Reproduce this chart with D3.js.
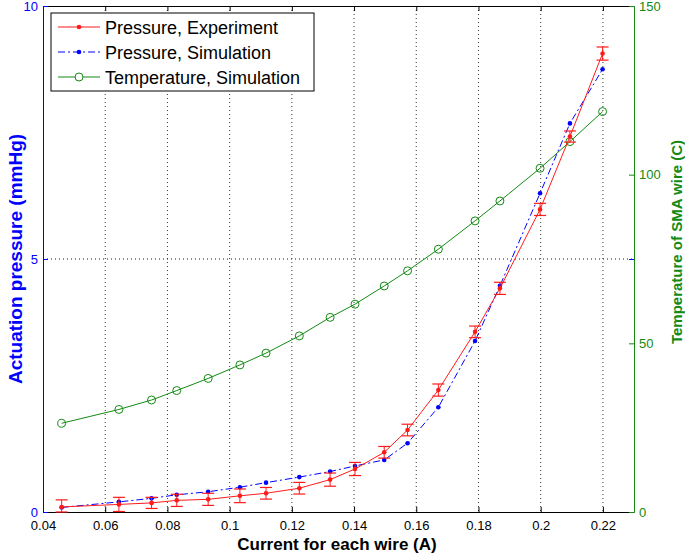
<!DOCTYPE html>
<html>
<head>
<meta charset="utf-8">
<script src="https://cdn.jsdelivr.net/npm/d3@7"></script>
<style>
html,body{margin:0;padding:0;background:#fff;}
svg{display:block;font-family:Arial,"Liberation Sans",Helvetica,sans-serif;}
</style>
</head>
<body>
<svg id="chart" width="685" height="555"></svg>
<script>
// ---- data ----
const current = [0.0460, 0.0644, 0.0749, 0.0830, 0.0931, 0.1033, 0.1117, 0.1224, 0.1323,
                 0.1403, 0.1497, 0.1572, 0.1671, 0.1789, 0.1869, 0.1998, 0.2094, 0.2199];
const pressureExp = [0.10, 0.15, 0.18, 0.23, 0.25, 0.32, 0.37, 0.47, 0.64,
                     0.85, 1.18, 1.62, 2.41, 3.56, 4.42, 5.98, 7.42, 9.06];
const pressureErr = [0.14, 0.14, 0.11, 0.12, 0.12, 0.135, 0.115, 0.115, 0.13,
                     0.13, 0.115, 0.115, 0.12, 0.115, 0.12, 0.12, 0.11, 0.13];
const pressureSim = [0.09, 0.20, 0.27, 0.34, 0.40, 0.49, 0.58, 0.69, 0.80,
                     0.91, 1.03, 1.36, 2.07, 3.38, 4.47, 6.30, 7.68, 8.75];
const temperatureSim = [26.3, 30.4, 33.2, 36.0, 39.6, 43.6, 47.1, 52.2, 57.7,
                        61.6, 67.0, 71.5, 77.9, 86.3, 92.2, 101.9, 109.8, 118.7];
const xTicks = [0.04, 0.06, 0.08, 0.10, 0.12, 0.14, 0.16, 0.18, 0.20, 0.22];
const xTickLabels = ["0.04","0.06","0.08","0.1","0.12","0.14","0.16","0.18","0.2","0.22"];
const yLeftTicks = [0, 5, 10];
const yRightTicks = [0, 50, 100, 150];
const legendLabels = ["Pressure, Experiment", "Pressure, Simulation", "Temperature, Simulation"];

// ---- layout ----
const L = 43, R = 634, T = 6, B = 512;
const RED = "#ff1a1a", BLUE = "#0000ff", GREEN = "#138a13";
const FONT = "Arial, 'Liberation Sans', sans-serif";

const svg = d3.select("#chart");
const x = d3.scaleLinear().domain([0.04, 0.23]).range([L, R]);
const yL = d3.scaleLinear().domain([0, 10]).range([B, T]);
const yR = d3.scaleLinear().domain([0, 150]).range([B, T]);

// grid
const grid = svg.append("g");
grid.selectAll("line.vg").data(xTicks.slice(1)).enter().append("line")
  .attr("x1", d => x(d)).attr("x2", d => x(d)).attr("y1", T).attr("y2", B)
  .attr("stroke", "#333").attr("stroke-width", 1).attr("stroke-dasharray", "1,3");
grid.selectAll("line.hg").data(yLeftTicks.slice(1, 2)).enter().append("line")
  .attr("x1", L).attr("x2", R).attr("y1", d => yL(d)).attr("y2", d => yL(d))
  .attr("stroke", BLUE).attr("stroke-width", 1).attr("stroke-dasharray", "1,3");

// axes (ticks inward)
const tickLen = 5;
const xAxisB = d3.axisBottom(x).tickValues(xTicks).tickSizeInner(-tickLen).tickSizeOuter(0)
  .tickFormat((d, i) => xTickLabels[i]).tickPadding(9);
const gxb = svg.append("g").attr("transform", `translate(0,${B})`).call(xAxisB);
gxb.select(".domain").attr("stroke", "#000");
gxb.selectAll(".tick line").attr("stroke", "#000");
gxb.selectAll(".tick text").attr("fill", "#000").attr("font-size", 13).attr("font-family", FONT);

const xAxisT = d3.axisTop(x).tickValues(xTicks).tickSizeInner(-tickLen).tickSizeOuter(0).tickFormat("");
const gxt = svg.append("g").attr("transform", `translate(0,${T})`).call(xAxisT);
gxt.select(".domain").attr("stroke", "#000");
gxt.selectAll(".tick line").attr("stroke", "#000");

const yAxisL = d3.axisLeft(yL).tickValues(yLeftTicks).tickSizeInner(-tickLen).tickSizeOuter(0)
  .tickFormat(d3.format("d")).tickPadding(5);
const gyl = svg.append("g").attr("transform", `translate(${L},0)`).call(yAxisL);
gyl.select(".domain").attr("stroke", BLUE);
gyl.selectAll(".tick line").attr("stroke", BLUE);
gyl.selectAll(".tick text").attr("fill", BLUE).attr("font-size", 13).attr("font-family", FONT);

// mirrored left-axis ticks on the right side
const yAxisLr = d3.axisRight(yL).tickValues(yLeftTicks).tickSizeInner(-tickLen).tickSizeOuter(0).tickFormat("");
const gylr = svg.append("g").attr("transform", `translate(${R},0)`).call(yAxisLr);
gylr.select(".domain").remove();
gylr.selectAll(".tick line").attr("stroke", BLUE);

const yAxisR = d3.axisRight(yR).tickValues(yRightTicks).tickSizeInner(-tickLen).tickSizeOuter(0)
  .tickFormat(d3.format("d")).tickPadding(5);
const gyr = svg.append("g").attr("transform", `translate(${R},0)`).call(yAxisR);
gyr.select(".domain").attr("stroke", GREEN);
gyr.selectAll(".tick line").attr("stroke", GREEN);
gyr.selectAll(".tick text").attr("fill", GREEN).attr("font-size", 13).attr("font-family", FONT);

// ---- series ----
const idx = d3.range(current.length);
const plot = svg.append("g");

// temperature (green, circles)
plot.append("path").datum(idx)
  .attr("d", d3.line().x(i => x(current[i])).y(i => yR(temperatureSim[i])))
  .attr("fill", "none").attr("stroke", GREEN).attr("stroke-width", 1);
plot.selectAll("circle.t").data(idx).enter().append("circle")
  .attr("cx", i => x(current[i])).attr("cy", i => yR(temperatureSim[i])).attr("r", 4)
  .attr("fill", "none").attr("stroke", GREEN).attr("stroke-width", 1);

// pressure simulation (blue dash-dot)
plot.append("path").datum(idx)
  .attr("d", d3.line().x(i => x(current[i])).y(i => yL(pressureSim[i])))
  .attr("fill", "none").attr("stroke", BLUE).attr("stroke-width", 1)
  .attr("stroke-dasharray", "7,3,2,3");
plot.selectAll("circle.s").data(idx).enter().append("circle")
  .attr("cx", i => x(current[i])).attr("cy", i => yL(pressureSim[i])).attr("r", 2.3)
  .attr("fill", BLUE);

// pressure experiment (red, error bars)
plot.append("path").datum(idx)
  .attr("d", d3.line().x(i => x(current[i])).y(i => yL(pressureExp[i])))
  .attr("fill", "none").attr("stroke", RED).attr("stroke-width", 1);
const eb = plot.selectAll("g.eb").data(idx).enter().append("g");
const cap = 6;
eb.append("line")
  .attr("x1", i => x(current[i])).attr("x2", i => x(current[i]))
  .attr("y1", i => yL(Math.max(0, pressureExp[i] - pressureErr[i])))
  .attr("y2", i => yL(pressureExp[i] + pressureErr[i]))
  .attr("stroke", RED).attr("stroke-width", 1);
eb.append("line")
  .attr("x1", i => x(current[i]) - cap).attr("x2", i => x(current[i]) + cap)
  .attr("y1", i => yL(pressureExp[i] + pressureErr[i])).attr("y2", i => yL(pressureExp[i] + pressureErr[i]))
  .attr("stroke", RED).attr("stroke-width", 1.2);
eb.append("line")
  .attr("x1", i => x(current[i]) - cap).attr("x2", i => x(current[i]) + cap)
  .attr("y1", i => yL(Math.max(0, pressureExp[i] - pressureErr[i])))
  .attr("y2", i => yL(Math.max(0, pressureExp[i] - pressureErr[i])))
  .attr("stroke", RED).attr("stroke-width", 1.2);
plot.selectAll("circle.e").data(idx).enter().append("circle")
  .attr("cx", i => x(current[i])).attr("cy", i => yL(pressureExp[i])).attr("r", 2.3)
  .attr("fill", RED);

// ---- axis titles ----
svg.append("text").attr("x", 337).attr("y", 550).attr("text-anchor", "middle")
  .attr("font-size", 17).attr("font-weight", "bold").attr("fill", "#000").attr("font-family", FONT)
  .text("Current for each wire (A)");
svg.append("text").attr("transform", `translate(22,259) rotate(-90)`).attr("text-anchor", "middle")
  .attr("font-size", 19).attr("font-weight", "bold").attr("fill", BLUE).attr("font-family", FONT)
  .text("Actuation pressure (mmHg)");
svg.append("text").attr("transform", `translate(682,242) rotate(-90)`).attr("text-anchor", "middle")
  .attr("font-size", 15).attr("font-weight", "bold").attr("fill", GREEN).attr("font-family", FONT)
  .text("Temperature of SMA wire (C)");

// ---- legend ----
const lg = svg.append("g");
lg.append("rect").attr("x", 51).attr("y", 13).attr("width", 263).attr("height", 78)
  .attr("fill", "#fff").attr("stroke", "#000").attr("stroke-width", 1);
const rows = [27, 52, 77];
const lx1 = 58, lx2 = 100, lmid = 79;
lg.append("line").attr("x1", lx1).attr("x2", lx2).attr("y1", rows[0]).attr("y2", rows[0]).attr("stroke", RED);
lg.append("circle").attr("cx", lmid).attr("cy", rows[0]).attr("r", 2.3).attr("fill", RED);
lg.append("line").attr("x1", lx1).attr("x2", lx2).attr("y1", rows[1]).attr("y2", rows[1]).attr("stroke", BLUE)
  .attr("stroke-dasharray", "7,3,2,3");
lg.append("circle").attr("cx", lmid).attr("cy", rows[1]).attr("r", 2.3).attr("fill", BLUE);
lg.append("line").attr("x1", lx1).attr("x2", lx2).attr("y1", rows[2]).attr("y2", rows[2]).attr("stroke", GREEN);
lg.append("circle").attr("cx", lmid).attr("cy", rows[2]).attr("r", 4).attr("fill", "#fff").attr("stroke", GREEN);
lg.selectAll("text.l").data(legendLabels).enter().append("text")
  .attr("x", 105).attr("y", (d, i) => rows[i] + 6.5).attr("font-size", 18).attr("fill", "#000")
  .attr("font-family", FONT)
  .text(d => d);
</script>
</body>
</html>
